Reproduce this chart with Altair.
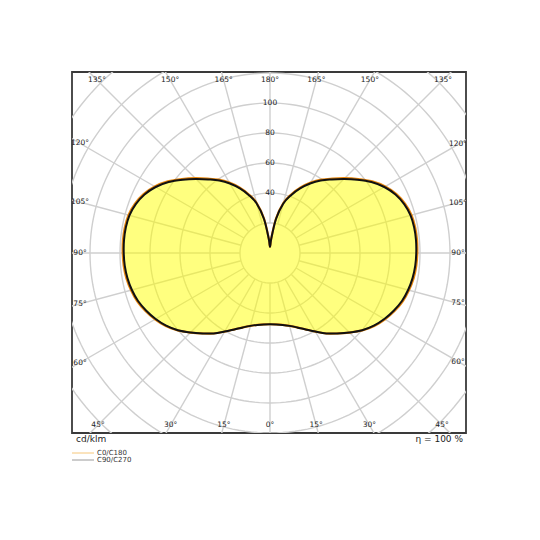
import altair as alt
import numpy as np
import pandas as pd

gamma_deg = [0, 5, 10, 15, 20, 25, 30, 35, 40, 45, 50, 55, 60, 65, 70, 75, 80, 85, 90,
             95, 100, 105, 110, 115, 120, 125, 130, 135, 140, 145, 150, 155, 160, 165,
             170, 175, 180]
c90_c270 = [47.5, 47.8, 48.7, 50.3, 52.8, 56.2, 60.5, 65.5, 70.0, 75.0, 80.2, 84.5, 88.0,
            91.0, 93.6, 95.3, 96.5, 97.2, 97.5, 97.7, 97.6, 97.0, 95.2, 92.3, 88.0, 82.5,
            76.0, 69.8, 64.0, 59.0, 53.5, 47.5, 41.0, 34.0, 23.0, 9.5, 4.0]
c0_c180 = [47.5, 47.8, 48.7, 50.3, 52.8, 56.2, 60.5, 65.5, 70.0, 75.0, 80.3, 84.9, 88.5,
           91.6, 94.2, 95.9, 97.2, 97.9, 98.2, 98.4, 98.3, 97.7, 95.9, 93.0, 88.7, 83.2,
           76.7, 70.5, 64.7, 59.7, 54.2, 48.2, 41.7, 34.7, 23.7, 10.0, 4.0]

ring_values = [20, 40, 60, 80, 100, 120, 140, 160, 180]
ring_label_values = [40, 60, 80, 100]
spoke_angles = list(range(0, 360, 15))
angle_label_values = list(range(0, 181, 15))
unit_text = "cd/klm"
eta_text = "η = 100 %"
legend_names = ["C0/C180", "C90/C270"]

# ---- geometry of the plot frame (data units) ----
W, H = 394, 361
XDOM = [-132.0, 130.667]
YDOM = [-120.0, 120.667]
xs = alt.Scale(domain=XDOM, nice=False, zero=False)
ys = alt.Scale(domain=YDOM, nice=False, zero=False)
FONT = "DejaVu Sans"


def curve_df(r_list):
    g = np.radians(gamma_deg)
    r = np.array(r_list, dtype=float)
    rows = []
    o = 0
    for i in range(len(g)):  # right half, nadir -> zenith
        rows.append({"o": o, "x": r[i] * np.sin(g[i]), "y": -r[i] * np.cos(g[i])})
        o += 1
    for i in range(len(g) - 2, 0, -1):  # left half, zenith -> nadir
        rows.append({"o": o, "x": -r[i] * np.sin(g[i]), "y": -r[i] * np.cos(g[i])})
        o += 1
    return pd.DataFrame(rows)


df_c0 = curve_df(c0_c180)
df_c90 = curve_df(c90_c270)

# grid rings
ring_rows = []
for rv in ring_values:
    for k, a in enumerate(np.radians(np.arange(0, 361, 2))):
        ring_rows.append({"ring": rv, "o": k, "x": rv * np.sin(a), "y": rv * np.cos(a)})
df_rings = pd.DataFrame(ring_rows)

# spokes
sp = np.radians(spoke_angles)
df_spokes = pd.DataFrame({
    "x": 20 * np.sin(sp), "y": -20 * np.cos(sp),
    "x2": 260 * np.sin(sp), "y2": -260 * np.cos(sp),
})

# angle labels along an inset of the frame
inset = 8 / 1.5
xmin, xmax = XDOM[0] + inset, XDOM[1] - inset
ymin, ymax = YDOM[0] + inset, YDOM[1] - inset
lab_rows = []
for a in angle_label_values:
    for side in ([1] if a in (0, 180) else [-1, 1]):
        dx = side * np.sin(np.radians(a))
        dy = -np.cos(np.radians(a))
        ts = []
        if abs(dx) > 1e-9:
            ts.append((xmax if dx > 0 else -xmin) / abs(dx))
        if abs(dy) > 1e-9:
            ts.append((ymax if dy > 0 else -ymin) / abs(dy))
        t = min(ts)
        lab_rows.append({"x": t * dx, "y": t * dy, "label": f"{a}°"})
df_alabels = pd.DataFrame(lab_rows)

df_rlabels = pd.DataFrame({"x": [0.0] * len(ring_label_values),
                           "y": ring_label_values,
                           "label": [str(v) for v in ring_label_values]})

X = lambda f: alt.X(f, scale=xs, axis=None)
Y = lambda f: alt.Y(f, scale=ys, axis=None)

rings = alt.Chart(df_rings).mark_line(color="#cfcfcf", strokeWidth=1.4, clip=True).encode(
    x=X("x:Q"), y=Y("y:Q"), detail="ring:N", order="o:Q")

spokes = alt.Chart(df_spokes).mark_rule(color="#cfcfcf", strokeWidth=1.4, clip=True).encode(
    x=X("x:Q"), y=Y("y:Q"), x2="x2:Q", y2="y2:Q")

fill = alt.Chart(df_c0).mark_line(
    fill="#ffff00", fillOpacity=0.5, strokeOpacity=0, interpolate="cardinal-closed"
).encode(x=X("x:Q"), y=Y("y:Q"), order="o:Q")

line_c0 = alt.Chart(df_c0).mark_line(
    color="#e8870e", strokeWidth=2.2, interpolate="cardinal-closed"
).encode(x=X("x:Q"), y=Y("y:Q"), order="o:Q")

line_c90 = alt.Chart(df_c90).mark_line(
    color="#111111", strokeWidth=2.0, interpolate="cardinal-closed"
).encode(x=X("x:Q"), y=Y("y:Q"), order="o:Q")

alabels = alt.Chart(df_alabels).mark_text(
    font=FONT, fontSize=7.5, color="#222222", align="center", baseline="middle", clip=True
).encode(x=X("x:Q"), y=Y("y:Q"), text="label:N")

rlabels = alt.Chart(df_rlabels).mark_text(
    font=FONT, fontSize=7.5, color="#222222", align="center", baseline="middle", clip=True
).encode(x=X("x:Q"), y=Y("y:Q"), text="label:N")

one = pd.DataFrame({"k": [0]})
unit = alt.Chart(one).mark_text(font=FONT, fontSize=9, color="#222222", align="left",
                                baseline="middle").encode(
    x=alt.value(4), y=alt.value(367), text=alt.value(unit_text))
eta = alt.Chart(one).mark_text(font=FONT, fontSize=9, color="#222222", align="right",
                               baseline="middle").encode(
    x=alt.value(W - 3), y=alt.value(367), text=alt.value(eta_text))
leg1 = alt.Chart(one).mark_rule(color="#f6c77a", strokeWidth=1).encode(
    x=alt.value(0), x2=alt.value(22), y=alt.value(381))
leg2 = alt.Chart(one).mark_rule(color="#9a9a9a", strokeWidth=1).encode(
    x=alt.value(0), x2=alt.value(22), y=alt.value(388))
legt1 = alt.Chart(one).mark_text(font=FONT, fontSize=7, color="#333333", align="left",
                                 baseline="middle").encode(
    x=alt.value(25), y=alt.value(381), text=alt.value(legend_names[0]))
legt2 = alt.Chart(one).mark_text(font=FONT, fontSize=7, color="#333333", align="left",
                                 baseline="middle").encode(
    x=alt.value(25), y=alt.value(388), text=alt.value(legend_names[1]))

chart = alt.layer(
    rings, spokes, fill, line_c0, line_c90, alabels, rlabels,
    unit, eta, leg1, leg2, legt1, legt2
).properties(
    width=W, height=H,
    autosize="none",
    padding={"left": 64, "top": 64, "right": 66, "bottom": 99},
    background="white",
).configure_view(stroke="#3a3a3a", strokeWidth=1.8)

chart.save("out.html", embed_options={"renderer": "svg", "actions": False})
